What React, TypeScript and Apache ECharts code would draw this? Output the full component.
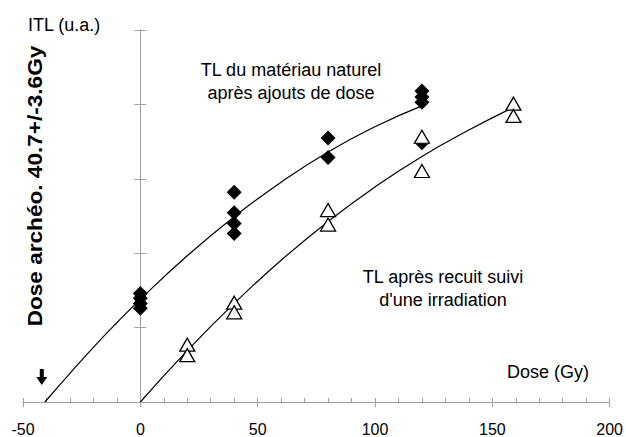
import React, { useEffect, useRef } from "react";
import * as echarts from "echarts";

// Data (ITL in arbitrary units, 0..100 scale)
const naturalDoses = [0, 0, 0, 0, 40, 40, 40, 40, 80, 80, 120, 120, 120, 120];
const naturalITL = [29.2, 27.9, 26.5, 25.2, 56.4, 50.9, 48.0, 45.3, 71.0, 65.7, 83.6, 82.0, 80.6, 69.7];

const regenDoses = [20, 20, 40, 40, 80, 80, 120, 120, 159, 159];
const regenITL = [15.4, 12.6, 26.7, 24.1, 51.6, 47.7, 71.3, 62.1, 80.2, 76.9];

const fitNaturalDoses = [-40.7, -30, -20, -10, 0, 20, 40, 60, 80, 100, 120];
const fitNaturalITL = [0, 7.7, 14.7, 21.3, 27.6, 39.3, 49.8, 59.1, 67.2, 74.0, 79.6];

const fitRegenDoses = [0, 20, 40, 60, 80, 100, 120, 140, 157];
const fitRegenITL = [0, 13.8, 26.5, 38.1, 48.5, 57.8, 66.0, 73.1, 78.6];

const arrowDose = [-42];
const arrowITL = [6.7];

const xMin = -50;
const xMax = 200;
const xStep = 50;
const yMin = 0;
const yMax = 100;
const yStep = 20;

const zip = (xs: number[], ys: number[]) => xs.map((x, i) => [x, ys[i]]);

const FONT = '"Liberation Sans", Arial, sans-serif';
const AXIS_COLOR = "#a0a0a0";

export default function App() {
  const ref = useRef<HTMLDivElement>(null);
  useEffect(() => {
    if (!ref.current) return;
    const chart = echarts.init(ref.current, null, { renderer: "svg" });
    const baseX = {
      type: "value",
      min: xMin,
      max: xMax,
      interval: xStep,
      position: "bottom",
      splitLine: { show: false },
    };
    const baseY = {
      type: "value",
      min: yMin,
      max: yMax,
      interval: yStep,
      position: "left",
      splitLine: { show: false },
      axisLabel: { show: false },
    };
    chart.setOption({
      animation: false,
      backgroundColor: "#ffffff",
      grid: { left: 23, right: 16, top: 30, bottom: 34, containLabel: false },
      xAxis: [
        {
          ...baseX,
          axisLine: { show: true, onZero: true, lineStyle: { color: AXIS_COLOR, width: 1 } },
          axisTick: { show: true, inside: true, length: 4, lineStyle: { color: AXIS_COLOR } },
          minorTick: { show: true, splitNumber: 5, length: 4, lineStyle: { color: AXIS_COLOR } },
          axisLabel: {
            show: true,
            margin: 19,
            color: "#000",
            fontSize: 16,
            fontFamily: FONT,
          },
        },
        {
          ...baseX,
          axisLine: { show: true, onZero: true, lineStyle: { color: AXIS_COLOR, opacity: 0 } },
          axisTick: { show: true, inside: false, length: 5, lineStyle: { color: AXIS_COLOR } },
          axisLabel: { show: false },
        },
      ],
      yAxis: [
        {
          ...baseY,
          axisLine: { show: true, onZero: true, lineStyle: { color: AXIS_COLOR, width: 1 } },
          axisTick: { show: true, inside: false, length: 6, lineStyle: { color: AXIS_COLOR } },
        },
        {
          ...baseY,
          axisLine: { show: true, onZero: true, lineStyle: { color: AXIS_COLOR, opacity: 0 } },
          axisTick: { show: true, inside: true, length: 6, lineStyle: { color: AXIS_COLOR } },
        },
      ],
      series: [
        {
          type: "line",
          data: zip(fitNaturalDoses, fitNaturalITL),
          smooth: true,
          showSymbol: false,
          symbol: "none",
          lineStyle: { color: "#000", width: 1.2 },
          z: 2,
        },
        {
          type: "line",
          data: zip(fitRegenDoses, fitRegenITL),
          smooth: true,
          showSymbol: false,
          symbol: "none",
          lineStyle: { color: "#000", width: 1.2 },
          z: 2,
        },
        {
          type: "scatter",
          data: zip(naturalDoses, naturalITL),
          symbol: "diamond",
          symbolSize: [15, 15],
          itemStyle: { color: "#000", opacity: 1 },
          z: 3,
        },
        {
          type: "scatter",
          data: zip(regenDoses, regenITL),
          symbol: "triangle",
          symbolSize: [15, 13],
          itemStyle: { color: "#fff", borderColor: "#000", borderWidth: 1.3, opacity: 1 },
          z: 4,
        },
        {
          type: "scatter",
          data: zip(arrowDose, arrowITL),
          symbol: "path://M3.5,0 L7.5,0 L7.5,8 L11,8 L5.5,16 L0,8 L3.5,8 Z",
          symbolSize: [11, 16],
          itemStyle: { color: "#000", opacity: 1 },
          z: 4,
        },
      ],
      graphic: [
        {
          type: "text",
          x: 28,
          y: 25,
          style: {
            text: "ITL (u.a.)",
            font: `18px ${FONT}`,
            fill: "#000",
            textAlign: "left",
            textVerticalAlign: "middle",
            verticalAlign: "middle",
          },
        },
        {
          type: "text",
          x: 35,
          y: 186,
          rotation: Math.PI / 2,
          scaleX: 1.13,
          style: {
            text: "Dose archéo. 40.7+/-3.6Gy",
            font: `bold 20px ${FONT}`,
            fill: "#000",
            textAlign: "center",
            textVerticalAlign: "middle",
            verticalAlign: "middle",
          },
        },
        {
          type: "text",
          x: 291,
          y: 81,
          style: {
            text: "TL du matériau naturel\naprès ajouts de dose",
            font: `18px ${FONT}`,
            lineHeight: 23,
            fill: "#000",
            textAlign: "center",
            textVerticalAlign: "middle",
            verticalAlign: "middle",
          },
        },
        {
          type: "text",
          x: 443,
          y: 288,
          style: {
            text: "TL après recuit suivi\nd'une irradiation",
            font: `18px ${FONT}`,
            lineHeight: 23,
            fill: "#000",
            textAlign: "center",
            textVerticalAlign: "middle",
            verticalAlign: "middle",
          },
        },
        {
          type: "text",
          x: 548,
          y: 372,
          style: {
            text: "Dose (Gy)",
            font: `18px ${FONT}`,
            fill: "#000",
            textAlign: "center",
            textVerticalAlign: "middle",
            verticalAlign: "middle",
          },
        },
      ],
    });
    return () => chart.dispose();
  }, []);
  return (
    <div
      ref={ref}
      style={{ position: "fixed", left: 0, top: 0, width: 626, height: 437, background: "#fff" }}
    />
  );
}
